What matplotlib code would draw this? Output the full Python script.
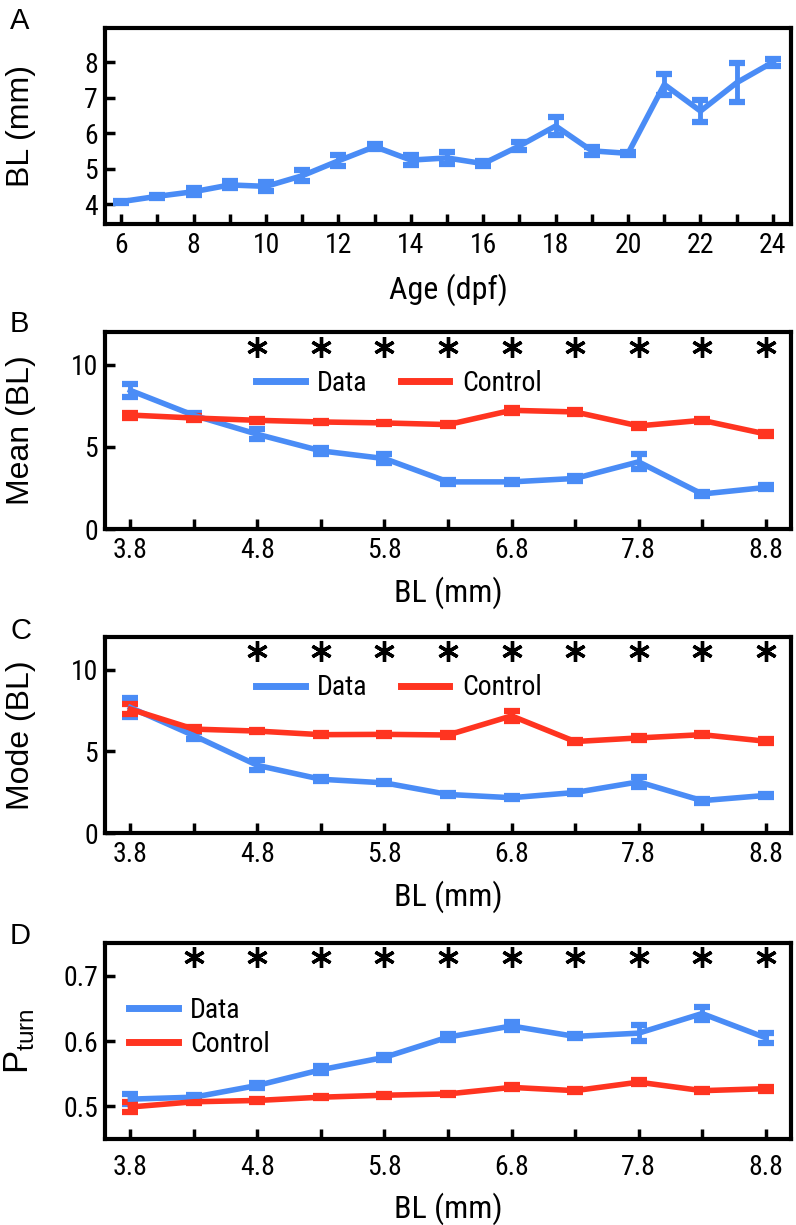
import numpy as np
import matplotlib.pyplot as plt

# Panel A: body length vs age
age = [6, 7, 8, 9, 10, 11, 12, 13, 14, 15, 16, 17, 18, 19, 20, 21, 22, 23, 24]
bl_age = [4.07, 4.22, 4.35, 4.54, 4.50, 4.80, 5.22, 5.62, 5.24, 5.30, 5.14, 5.64, 6.20, 5.50, 5.43, 7.37, 6.62, 7.42, 8.00]
bl_age_err = [0.03, 0.04, 0.10, 0.10, 0.12, 0.15, 0.15, 0.06, 0.15, 0.17, 0.08, 0.12, 0.25, 0.12, 0.05, 0.30, 0.30, 0.55, 0.10]

# Panels B-D: binned by body length
bl = [3.8, 4.3, 4.8, 5.3, 5.8, 6.3, 6.8, 7.3, 7.8, 8.3, 8.8]

mean_data = [8.44, 6.92, 5.77, 4.76, 4.29, 2.87, 2.87, 3.08, 4.09, 2.13, 2.53]
mean_data_err = [0.40, 0.15, 0.30, 0.20, 0.25, 0.10, 0.10, 0.15, 0.45, 0.15, 0.12]
mean_ctrl = [6.94, 6.76, 6.62, 6.52, 6.46, 6.36, 7.23, 7.13, 6.28, 6.62, 5.79]
mean_ctrl_err = [0.15, 0.10, 0.08, 0.08, 0.08, 0.10, 0.15, 0.10, 0.10, 0.10, 0.12]

mode_data = [7.68, 5.96, 4.14, 3.29, 3.07, 2.36, 2.16, 2.48, 3.13, 1.98, 2.30]
mode_data_err = [0.60, 0.20, 0.30, 0.12, 0.10, 0.08, 0.08, 0.08, 0.30, 0.12, 0.10]
mode_ctrl = [7.58, 6.36, 6.24, 6.02, 6.04, 6.00, 7.17, 5.60, 5.82, 6.02, 5.62]
mode_ctrl_err = [0.30, 0.10, 0.08, 0.08, 0.08, 0.10, 0.30, 0.08, 0.10, 0.08, 0.12]

pturn_data = [0.511, 0.514, 0.532, 0.556, 0.575, 0.606, 0.623, 0.607, 0.612, 0.642, 0.605]
pturn_data_err = [0.008, 0.003, 0.004, 0.005, 0.004, 0.005, 0.006, 0.003, 0.012, 0.010, 0.008]
pturn_ctrl = [0.499, 0.507, 0.509, 0.514, 0.517, 0.519, 0.529, 0.524, 0.537, 0.524, 0.527]
pturn_ctrl_err = [0.007, 0.002, 0.002, 0.002, 0.002, 0.002, 0.003, 0.002, 0.003, 0.002, 0.003]

stars_bc = [4.8, 5.3, 5.8, 6.3, 6.8, 7.3, 7.8, 8.3, 8.8]
stars_d = [4.3, 4.8, 5.3, 5.8, 6.3, 6.8, 7.3, 7.8, 8.3, 8.8]

blue = '#4a8cf6'
red = '#ff3420'
regular = ['Liberation Sans', 'DejaVu Sans']
plt.rcParams['font.family'] = ['Roboto Condensed', 'DejaVu Sans']
plt.rcParams['mathtext.fontset'] = 'custom'
plt.rcParams['mathtext.rm'] = 'Liberation Sans'

fig = plt.figure(figsize=(7.96, 12.25), dpi=100)
W, H = 796, 1225


def make_ax(top, bottom):
    return fig.add_axes([105 / W, 1 - bottom / H, (791 - 105) / W, (bottom - top) / H])


def style(ax, xpad=6):
    for s in ax.spines.values():
        s.set_linewidth(3)
    ax.tick_params(direction='in', length=7, width=2.5, labelsize=20,
                   top=False, right=False)
    ax.tick_params(axis='x', pad=xpad)
    ax.tick_params(axis='y', pad=5)


def ebar(ax, x, y, e, c):
    ax.errorbar(x, y, yerr=e, color=c, lw=4, elinewidth=3.5, capsize=6, capthick=4.5)


# ---- A
axA = make_ax(28, 224)
ebar(axA, age, bl_age, bl_age_err, blue)
axA.set_xlim(5.55, 24.5)
axA.set_ylim(3.44, 8.96)
axA.set_xticks(age)
axA.set_xticklabels([str(a) if a % 2 == 0 else '' for a in age])
axA.set_yticks([4, 5, 6, 7, 8])
style(axA)
axA.set_ylabel('BL (mm)', fontsize=23, family=regular)
axA.set_xlabel('Age (dpf)', fontsize=23)
axA.yaxis.set_label_coords(-0.1, 0.5)
axA.xaxis.set_label_coords(0.5, -0.25)


def panel(top, bottom, yd, yde, yc, yce, stars, star_y, xpad=6, xl=-0.24):
    ax = make_ax(top, bottom)
    ebar(ax, bl, yd, yde, blue)
    ebar(ax, bl, yc, yce, red)
    ax.plot(stars, [star_y] * len(stars), ls='none', marker=(6, 2, 0), ms=15,
            mew=2.4, color='black')
    ax.set_xlim(3.6, 9.0)
    ax.set_xticks(bl)
    ax.set_xticklabels([f'{v:.1f}' if i % 2 == 0 else '' for i, v in enumerate(bl)])
    style(ax, xpad)
    ax.set_xlabel('BL (mm)', fontsize=23)
    ax.xaxis.set_label_coords(0.5, xl)
    ax.yaxis.set_label_coords(-0.1, 0.5)
    return ax


axB = panel(332, 529, mean_data, mean_data_err, mean_ctrl, mean_ctrl_err, stars_bc, 11.07)
axB.set_ylim(0, 12)
axB.set_yticks([0, 5, 10])
axB.set_ylabel('Mean (BL)', fontsize=23, family=regular)

axC = panel(637, 833, mode_data, mode_data_err, mode_ctrl, mode_ctrl_err, stars_bc, 11.15)
axC.set_ylim(0, 12)
axC.set_yticks([0, 5, 10])
axC.set_ylabel('Mode (BL)', fontsize=23, family=regular)

axD = panel(943, 1139, pturn_data, pturn_data_err, pturn_ctrl, pturn_ctrl_err, stars_d, 0.729,
            xpad=11, xl=-0.27)
axD.set_ylim(0.45, 0.75)
axD.set_yticks([0.5, 0.6, 0.7])
axD.set_yticklabels(['0.5', '0.6', '0.7'])
axD.set_ylabel(r'P$_{\mathrm{turn}}$', fontsize=25, family=regular)

# legends
leg_handles = [plt.Line2D([], [], color=blue, lw=5), plt.Line2D([], [], color=red, lw=5)]
for ax in (axB, axC):
    ax.legend(leg_handles, ['Data', 'Control'], ncol=2, frameon=False, loc='center left',
              bbox_to_anchor=(0.22, 0.74), borderpad=0, borderaxespad=0,
              handlelength=1.75, handletextpad=0.45, columnspacing=1.2, fontsize=20)
axD.legend(leg_handles, ['Data', 'Control'], frameon=False, loc='center left',
           bbox_to_anchor=(0.035, 0.57), borderpad=0, borderaxespad=0,
           handlelength=1.75, handletextpad=0.45, labelspacing=0.25, fontsize=20)

for letter, y in (('A', 21), ('B', 324), ('C', 631), ('D', 936)):
    fig.text(10 / W, 1 - y / H, letter, fontsize=21, va='center', ha='left', family=regular)

fig.savefig('out.png', dpi=100)
